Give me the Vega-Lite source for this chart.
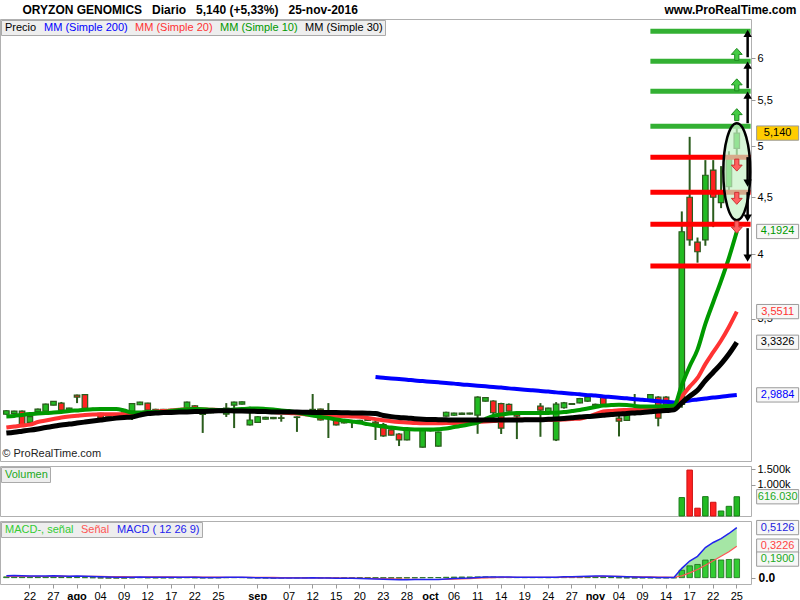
{
"$schema": "https://vega.github.io/schema/vega-lite/v6.json",
"background": "#ffffff",
"padding": {"left": -5, "top": 2, "right": 0, "bottom": 0},
"spacing": 0,
"config": {
  "font": "Liberation Sans",
  "view": {"stroke": "#b0b0b0"},
  "axis": {"labelFont": "Liberation Sans", "labelFontSize": 11, "labelColor": "#000000", "tickColor": "#999999", "domain": false, "grid": false, "titleFont": "Liberation Sans"},
  "legend": {"labelFont": "Liberation Sans", "labelFontSize": 11, "orient": "none", "legendX": 1, "legendY": 1, "direction": "horizontal", "padding": 2, "symbolSize": 0, "symbolStrokeWidth": 0, "symbolOpacity": 0, "labelOffset": -9, "columnPadding": 5, "fillColor": "#eeeeee", "strokeColor": "#aaaaaa"}
},
"datasets": {
"p": [
{"d":"2016-07-19","o":2.871,"h":2.895,"l":2.868,"c":2.892,"dir":"u","m10":2.858,"m20":2.793,"m30":2.761,"macd":0.020,"sig":0.012,"hist":0.008},
{"d":"2016-07-20","o":2.875,"h":2.892,"l":2.872,"c":2.890,"dir":"u","m10":2.861,"m20":2.799,"m30":2.766,"macd":0.021,"sig":0.013,"hist":0.008},
{"d":"2016-07-21","o":2.890,"h":2.893,"l":2.805,"c":2.808,"dir":"d","m10":2.867,"m20":2.805,"m30":2.772,"macd":0.020,"sig":0.013,"hist":0.007},
{"d":"2016-07-22","o":2.823,"h":2.870,"l":2.818,"c":2.857,"dir":"u","m10":2.872,"m20":2.810,"m30":2.778,"macd":0.018,"sig":0.014,"hist":0.004},
{"d":"2016-07-25","o":2.887,"h":2.905,"l":2.885,"c":2.902,"dir":"u","m10":2.875,"m20":2.825,"m30":2.785,"macd":0.017,"sig":0.014,"hist":0.003},
{"d":"2016-07-26","o":2.890,"h":2.935,"l":2.888,"c":2.932,"dir":"u","m10":2.878,"m20":2.834,"m30":2.793,"macd":0.018,"sig":0.012,"hist":0.006},
{"d":"2016-07-27","o":2.926,"h":2.951,"l":2.924,"c":2.949,"dir":"u","m10":2.881,"m20":2.843,"m30":2.800,"macd":0.019,"sig":0.013,"hist":0.006},
{"d":"2016-07-28","o":2.938,"h":2.945,"l":2.893,"c":2.896,"dir":"d","m10":2.885,"m20":2.852,"m30":2.808,"macd":0.017,"sig":0.015,"hist":0.002},
{"d":"2016-07-29","o":2.896,"h":2.910,"l":2.894,"c":2.908,"dir":"u","m10":2.890,"m20":2.858,"m30":2.813,"macd":0.015,"sig":0.014,"hist":0.001},
{"d":"2016-08-01","o":2.987,"h":2.990,"l":2.938,"c":2.975,"dir":"d","m10":2.894,"m20":2.862,"m30":2.819,"macd":0.016,"sig":0.014,"hist":0.002},
{"d":"2016-08-02","o":2.990,"h":2.993,"l":2.903,"c":2.906,"dir":"d","m10":2.898,"m20":2.866,"m30":2.825,"macd":0.014,"sig":0.014,"hist":0.000},
{"d":"2016-08-03","o":2.905,"h":2.910,"l":2.895,"c":2.900,"dir":"d","m10":2.901,"m20":2.869,"m30":2.831,"macd":0.011,"sig":0.013,"hist":-0.002},
{"d":"2016-08-04","o":2.876,"h":2.880,"l":2.844,"c":2.847,"dir":"d","m10":2.902,"m20":2.871,"m30":2.837,"macd":0.008,"sig":0.013,"hist":-0.005},
{"d":"2016-08-05","o":2.853,"h":2.858,"l":2.851,"c":2.856,"dir":"u","m10":2.902,"m20":2.871,"m30":2.843,"macd":0.006,"sig":0.012,"hist":-0.006},
{"d":"2016-08-08","o":2.860,"h":2.870,"l":2.857,"c":2.866,"dir":"u","m10":2.902,"m20":2.871,"m30":2.848,"macd":0.005,"sig":0.011,"hist":-0.006},
{"d":"2016-08-09","o":2.870,"h":2.884,"l":2.866,"c":2.880,"dir":"u","m10":2.893,"m20":2.872,"m30":2.852,"macd":0.004,"sig":0.010,"hist":-0.006},
{"d":"2016-08-10","o":2.890,"h":2.938,"l":2.837,"c":2.935,"dir":"u","m10":2.881,"m20":2.872,"m30":2.855,"macd":0.005,"sig":0.009,"hist":-0.004},
{"d":"2016-08-11","o":2.928,"h":2.946,"l":2.926,"c":2.944,"dir":"u","m10":2.881,"m20":2.878,"m30":2.866,"macd":0.006,"sig":0.006,"hist":0.000},
{"d":"2016-08-12","o":2.938,"h":2.940,"l":2.893,"c":2.896,"dir":"d","m10":2.884,"m20":2.882,"m30":2.875,"macd":0.005,"sig":0.008,"hist":-0.003},
{"d":"2016-08-15","o":2.896,"h":2.904,"l":2.890,"c":2.900,"dir":"u","m10":2.884,"m20":2.887,"m30":2.878,"macd":0.004,"sig":0.008,"hist":-0.004},
{"d":"2016-08-16","o":2.900,"h":2.903,"l":2.890,"c":2.895,"dir":"d","m10":2.885,"m20":2.890,"m30":2.881,"macd":0.003,"sig":0.007,"hist":-0.004},
{"d":"2016-08-17","o":2.895,"h":2.904,"l":2.892,"c":2.900,"dir":"u","m10":2.890,"m20":2.894,"m30":2.882,"macd":0.003,"sig":0.007,"hist":-0.004},
{"d":"2016-08-18","o":2.900,"h":2.908,"l":2.897,"c":2.905,"dir":"u","m10":2.896,"m20":2.898,"m30":2.884,"macd":0.003,"sig":0.006,"hist":-0.003},
{"d":"2016-08-19","o":2.908,"h":2.947,"l":2.905,"c":2.944,"dir":"u","m10":2.901,"m20":2.901,"m30":2.885,"macd":0.005,"sig":0.005,"hist":0.000},
{"d":"2016-08-22","o":2.922,"h":2.925,"l":2.900,"c":2.902,"dir":"d","m10":2.902,"m20":2.902,"m30":2.887,"macd":0.004,"sig":0.007,"hist":-0.003},
{"d":"2016-08-23","o":2.870,"h":2.878,"l":2.762,"c":2.875,"dir":"u","m10":2.901,"m20":2.900,"m30":2.888,"macd":0.002,"sig":0.006,"hist":-0.004},
{"d":"2016-08-24","o":2.880,"h":2.890,"l":2.876,"c":2.885,"dir":"u","m10":2.898,"m20":2.898,"m30":2.890,"macd":0.002,"sig":0.006,"hist":-0.004},
{"d":"2016-08-25","o":2.885,"h":2.894,"l":2.882,"c":2.890,"dir":"u","m10":2.896,"m20":2.897,"m30":2.892,"macd":0.002,"sig":0.005,"hist":-0.003},
{"d":"2016-08-26","o":2.872,"h":2.938,"l":2.855,"c":2.908,"dir":"u","m10":2.896,"m20":2.895,"m30":2.892,"macd":0.003,"sig":0.003,"hist":0.000},
{"d":"2016-08-29","o":2.926,"h":2.947,"l":2.790,"c":2.944,"dir":"u","m10":2.899,"m20":2.894,"m30":2.891,"macd":0.004,"sig":0.003,"hist":0.001},
{"d":"2016-08-30","o":2.932,"h":2.948,"l":2.930,"c":2.946,"dir":"u","m10":2.902,"m20":2.892,"m30":2.890,"macd":0.004,"sig":0.003,"hist":0.001},
{"d":"2016-08-31","o":2.808,"h":2.916,"l":2.805,"c":2.837,"dir":"u","m10":2.905,"m20":2.891,"m30":2.889,"macd":0.001,"sig":0.004,"hist":-0.003},
{"d":"2016-09-01","o":2.823,"h":2.860,"l":2.820,"c":2.856,"dir":"u","m10":2.906,"m20":2.890,"m30":2.888,"macd":-0.001,"sig":0.003,"hist":-0.004},
{"d":"2016-09-02","o":2.842,"h":2.856,"l":2.840,"c":2.853,"dir":"u","m10":2.903,"m20":2.887,"m30":2.887,"macd":-0.002,"sig":0.003,"hist":-0.005},
{"d":"2016-09-05","o":2.845,"h":2.855,"l":2.842,"c":2.852,"dir":"u","m10":2.899,"m20":2.884,"m30":2.885,"macd":-0.003,"sig":0.002,"hist":-0.005},
{"d":"2016-09-06","o":2.850,"h":2.866,"l":2.827,"c":2.847,"dir":"d","m10":2.894,"m20":2.881,"m30":2.885,"macd":-0.003,"sig":0.001,"hist":-0.004},
{"d":"2016-09-07","o":2.880,"h":2.890,"l":2.875,"c":2.885,"dir":"u","m10":2.890,"m20":2.879,"m30":2.884,"macd":-0.003,"sig":0.000,"hist":-0.003},
{"d":"2016-09-08","o":2.855,"h":2.858,"l":2.768,"c":2.852,"dir":"d","m10":2.881,"m20":2.875,"m30":2.884,"macd":-0.004,"sig":-0.001,"hist":-0.003},
{"d":"2016-09-09","o":2.875,"h":2.884,"l":2.870,"c":2.880,"dir":"u","m10":2.872,"m20":2.871,"m30":2.883,"macd":-0.003,"sig":-0.002,"hist":-0.001},
{"d":"2016-09-12","o":2.895,"h":2.994,"l":2.892,"c":2.900,"dir":"u","m10":2.864,"m20":2.866,"m30":2.882,"macd":-0.002,"sig":-0.002,"hist":0.000},
{"d":"2016-09-13","o":2.902,"h":2.905,"l":2.834,"c":2.837,"dir":"d","m10":2.855,"m20":2.865,"m30":2.882,"macd":-0.004,"sig":-0.001,"hist":-0.003},
{"d":"2016-09-14","o":2.860,"h":2.938,"l":2.733,"c":2.865,"dir":"u","m10":2.849,"m20":2.863,"m30":2.881,"macd":-0.004,"sig":-0.002,"hist":-0.002},
{"d":"2016-09-15","o":2.848,"h":2.850,"l":2.805,"c":2.808,"dir":"d","m10":2.840,"m20":2.862,"m30":2.881,"macd":-0.005,"sig":-0.003,"hist":-0.002},
{"d":"2016-09-16","o":2.830,"h":2.834,"l":2.817,"c":2.820,"dir":"d","m10":2.834,"m20":2.860,"m30":2.880,"macd":-0.006,"sig":-0.004,"hist":-0.002},
{"d":"2016-09-19","o":2.830,"h":2.837,"l":2.790,"c":2.826,"dir":"d","m10":2.828,"m20":2.858,"m30":2.879,"macd":-0.007,"sig":-0.005,"hist":-0.002},
{"d":"2016-09-20","o":2.835,"h":2.838,"l":2.822,"c":2.825,"dir":"d","m10":2.822,"m20":2.856,"m30":2.878,"macd":-0.008,"sig":-0.006,"hist":-0.002},
{"d":"2016-09-21","o":2.840,"h":2.846,"l":2.832,"c":2.835,"dir":"d","m10":2.813,"m20":2.849,"m30":2.877,"macd":-0.011,"sig":-0.007,"hist":-0.004},
{"d":"2016-09-22","o":2.825,"h":2.848,"l":2.722,"c":2.815,"dir":"d","m10":2.805,"m20":2.842,"m30":2.875,"m200":3.101,"macd":-0.014,"sig":-0.009,"hist":-0.005},
{"d":"2016-09-23","o":2.810,"h":2.820,"l":2.740,"c":2.745,"dir":"d","m10":2.799,"m20":2.835,"m30":2.864,"m200":3.096,"macd":-0.017,"sig":-0.011,"hist":-0.006},
{"d":"2016-09-26","o":2.780,"h":2.782,"l":2.748,"c":2.750,"dir":"d","m10":2.793,"m20":2.829,"m30":2.857,"m200":3.092,"macd":-0.019,"sig":-0.013,"hist":-0.006},
{"d":"2016-09-27","o":2.756,"h":2.760,"l":2.688,"c":2.722,"dir":"d","m10":2.788,"m20":2.825,"m30":2.852,"m200":3.088,"macd":-0.021,"sig":-0.015,"hist":-0.006},
{"d":"2016-09-28","o":2.722,"h":2.790,"l":2.720,"c":2.784,"dir":"u","m10":2.784,"m20":2.823,"m30":2.849,"m200":3.084,"macd":-0.021,"sig":-0.017,"hist":-0.004},
{"d":"2016-09-29","o":2.780,"h":2.790,"l":2.776,"c":2.785,"dir":"u","m10":2.782,"m20":2.820,"m30":2.845,"m200":3.079,"macd":-0.020,"sig":-0.018,"hist":-0.002},
{"d":"2016-09-30","o":2.682,"h":2.782,"l":2.679,"c":2.779,"dir":"u","m10":2.781,"m20":2.818,"m30":2.842,"m200":3.075,"macd":-0.020,"sig":-0.019,"hist":-0.001},
{"d":"2016-10-03","o":2.775,"h":2.784,"l":2.770,"c":2.780,"dir":"u","m10":2.781,"m20":2.818,"m30":2.840,"m200":3.071,"macd":-0.019,"sig":-0.019,"hist":0.000},
{"d":"2016-10-04","o":2.688,"h":2.770,"l":2.685,"c":2.767,"dir":"u","m10":2.783,"m20":2.818,"m30":2.839,"m200":3.067,"macd":-0.018,"sig":-0.019,"hist":0.001},
{"d":"2016-10-05","o":2.860,"h":2.886,"l":2.857,"c":2.883,"dir":"u","m10":2.787,"m20":2.819,"m30":2.838,"m200":3.063,"macd":-0.013,"sig":-0.017,"hist":0.004},
{"d":"2016-10-06","o":2.865,"h":2.880,"l":2.862,"c":2.878,"dir":"u","m10":2.796,"m20":2.819,"m30":2.837,"m200":3.059,"macd":-0.009,"sig":-0.015,"hist":0.006},
{"d":"2016-10-07","o":2.870,"h":2.880,"l":2.868,"c":2.878,"dir":"u","m10":2.803,"m20":2.822,"m30":2.837,"m200":3.054,"macd":-0.006,"sig":-0.013,"hist":0.007},
{"d":"2016-10-10","o":2.872,"h":2.880,"l":2.870,"c":2.878,"dir":"u","m10":2.812,"m20":2.823,"m30":2.837,"m200":3.050,"macd":-0.003,"sig":-0.010,"hist":0.007},
{"d":"2016-10-11","o":2.866,"h":2.980,"l":2.757,"c":2.975,"dir":"u","m10":2.822,"m20":2.826,"m30":2.837,"m200":3.046,"macd":0.002,"sig":-0.006,"hist":0.008},
{"d":"2016-10-12","o":2.950,"h":2.975,"l":2.947,"c":2.972,"dir":"u","m10":2.843,"m20":2.828,"m30":2.837,"m200":3.042,"macd":0.006,"sig":-0.002,"hist":0.008},
{"d":"2016-10-13","o":2.951,"h":2.955,"l":2.837,"c":2.880,"dir":"d","m10":2.861,"m20":2.831,"m30":2.837,"m200":3.038,"macd":0.007,"sig":0.000,"hist":0.007},
{"d":"2016-10-14","o":2.935,"h":2.940,"l":2.756,"c":2.790,"dir":"d","m10":2.869,"m20":2.835,"m30":2.837,"m200":3.034,"macd":0.006,"sig":0.002,"hist":0.004},
{"d":"2016-10-17","o":2.930,"h":2.935,"l":2.887,"c":2.890,"dir":"d","m10":2.875,"m20":2.838,"m30":2.837,"m200":3.029,"macd":0.006,"sig":0.003,"hist":0.003},
{"d":"2016-10-18","o":2.878,"h":2.880,"l":2.727,"c":2.860,"dir":"d","m10":2.878,"m20":2.841,"m30":2.837,"m200":3.025,"macd":0.005,"sig":0.003,"hist":0.002},
{"d":"2016-10-19","o":2.875,"h":2.885,"l":2.870,"c":2.880,"dir":"u","m10":2.878,"m20":2.840,"m30":2.838,"m200":3.021,"macd":0.004,"sig":0.003,"hist":0.001},
{"d":"2016-10-20","o":2.880,"h":2.884,"l":2.872,"c":2.876,"dir":"d","m10":2.878,"m20":2.839,"m30":2.839,"m200":3.017,"macd":0.004,"sig":0.003,"hist":0.001},
{"d":"2016-10-21","o":2.920,"h":2.938,"l":2.740,"c":2.896,"dir":"d","m10":2.878,"m20":2.838,"m30":2.839,"m200":3.013,"macd":0.004,"sig":0.003,"hist":0.001},
{"d":"2016-10-24","o":2.878,"h":2.910,"l":2.875,"c":2.908,"dir":"u","m10":2.879,"m20":2.838,"m30":2.841,"m200":3.009,"macd":0.003,"sig":0.003,"hist":0.000},
{"d":"2016-10-25","o":2.722,"h":2.944,"l":2.716,"c":2.932,"dir":"u","m10":2.880,"m20":2.838,"m30":2.843,"m200":3.004,"macd":0.005,"sig":0.004,"hist":0.001},
{"d":"2016-10-26","o":2.910,"h":2.945,"l":2.905,"c":2.940,"dir":"u","m10":2.884,"m20":2.840,"m30":2.846,"m200":3.000,"macd":0.008,"sig":0.005,"hist":0.003},
{"d":"2016-10-27","o":2.930,"h":2.938,"l":2.928,"c":2.935,"dir":"u","m10":2.890,"m20":2.843,"m30":2.850,"m200":2.996,"macd":0.010,"sig":0.006,"hist":0.004},
{"d":"2016-10-28","o":2.940,"h":2.970,"l":2.937,"c":2.965,"dir":"u","m10":2.896,"m20":2.845,"m30":2.854,"m200":2.992,"macd":0.013,"sig":0.008,"hist":0.005},
{"d":"2016-10-31","o":2.950,"h":2.980,"l":2.945,"c":2.975,"dir":"u","m10":2.905,"m20":2.855,"m30":2.857,"m200":2.987,"macd":0.015,"sig":0.010,"hist":0.005},
{"d":"2016-11-01","o":2.930,"h":2.935,"l":2.915,"c":2.920,"dir":"d","m10":2.914,"m20":2.872,"m30":2.861,"m200":2.984,"macd":0.016,"sig":0.012,"hist":0.004},
{"d":"2016-11-02","o":2.975,"h":2.980,"l":2.920,"c":2.926,"dir":"d","m10":2.923,"m20":2.887,"m30":2.865,"m200":2.979,"macd":0.016,"sig":0.013,"hist":0.003},
{"d":"2016-11-03","o":2.920,"h":2.930,"l":2.915,"c":2.925,"dir":"u","m10":2.926,"m20":2.891,"m30":2.869,"m200":2.975,"macd":0.014,"sig":0.013,"hist":0.001},
{"d":"2016-11-04","o":2.848,"h":2.866,"l":2.742,"c":2.830,"dir":"d","m10":2.928,"m20":2.895,"m30":2.872,"m200":2.971,"macd":0.011,"sig":0.013,"hist":-0.002},
{"d":"2016-11-07","o":2.835,"h":2.868,"l":2.832,"c":2.865,"dir":"u","m10":2.926,"m20":2.896,"m30":2.876,"m200":2.967,"macd":0.008,"sig":0.012,"hist":-0.004},
{"d":"2016-11-08","o":2.880,"h":2.994,"l":2.865,"c":2.885,"dir":"u","m10":2.921,"m20":2.897,"m30":2.879,"m200":2.962,"macd":0.006,"sig":0.011,"hist":-0.005},
{"d":"2016-11-09","o":2.890,"h":2.905,"l":2.885,"c":2.900,"dir":"u","m10":2.917,"m20":2.898,"m30":2.882,"m200":2.959,"macd":0.005,"sig":0.009,"hist":-0.004},
{"d":"2016-11-10","o":2.960,"h":2.994,"l":2.955,"c":2.990,"dir":"u","m10":2.917,"m20":2.900,"m30":2.886,"m200":2.954,"macd":0.004,"sig":0.008,"hist":-0.004},
{"d":"2016-11-11","o":2.975,"h":2.980,"l":2.800,"c":2.848,"dir":"d","m10":2.918,"m20":2.905,"m30":2.890,"m200":2.950,"macd":0.002,"sig":0.006,"hist":-0.004},
{"d":"2016-11-14","o":2.975,"h":2.980,"l":2.920,"c":2.926,"dir":"d","m10":2.920,"m20":2.911,"m30":2.893,"m200":2.946,"macd":0.001,"sig":0.005,"hist":-0.004},
{"d":"2016-11-15","o":2.920,"h":2.930,"l":2.900,"c":2.910,"dir":"d","m10":2.923,"m20":2.915,"m30":2.897,"m200":2.942,"macd":0.001,"sig":0.004,"hist":-0.003},
{"d":"2016-11-16","o":2.930,"h":4.370,"l":2.910,"c":4.190,"dir":"u","m10":3.050,"m20":2.978,"m30":2.940,"m200":2.947,"v":590000,"macd":0.095,"sig":0.019,"hist":0.076},
{"d":"2016-11-17","o":4.500,"h":5.100,"l":4.070,"c":4.120,"dir":"d","m10":3.171,"m20":3.040,"m30":2.980,"m200":2.954,"v":1470000,"macd":0.170,"sig":0.049,"hist":0.121},
{"d":"2016-11-18","o":4.100,"h":4.140,"l":3.930,"c":4.020,"dir":"d","m10":3.282,"m20":3.095,"m30":3.017,"m200":2.960,"v":250000,"macd":0.218,"sig":0.083,"hist":0.135},
{"d":"2016-11-21","o":4.120,"h":4.860,"l":4.070,"c":4.710,"dir":"u","m10":3.462,"m20":3.185,"m30":3.078,"m200":2.966,"v":620000,"macd":0.308,"sig":0.128,"hist":0.180},
{"d":"2016-11-22","o":4.760,"h":4.860,"l":4.230,"c":4.500,"dir":"d","m10":3.621,"m20":3.265,"m30":3.132,"m200":2.972,"v":440000,"macd":0.360,"sig":0.174,"hist":0.186},
{"d":"2016-11-23","o":4.450,"h":4.800,"l":4.400,"c":4.550,"dir":"u","m10":3.785,"m20":3.345,"m30":3.187,"m200":2.977,"v":160000,"macd":0.400,"sig":0.219,"hist":0.181},
{"d":"2016-11-24","o":4.600,"h":4.950,"l":4.550,"c":4.880,"dir":"u","m10":3.970,"m20":3.440,"m30":3.253,"m200":2.983,"v":310000,"macd":0.452,"sig":0.266,"hist":0.186},
{"d":"2016-11-25","o":4.980,"h":5.200,"l":4.900,"c":5.140,"dir":"u","m10":4.1924,"m20":3.5511,"m30":3.3326,"m200":2.9884,"v":616030,"macd":0.5126,"sig":0.3226,"hist":0.190}
],
"lv": [{"p":6.347,"k":"g"},{"p":5.964,"k":"g"},{"p":5.606,"k":"g"},{"p":5.214,"k":"g"},{"p":4.890,"k":"r"},{"p":4.548,"k":"r"},{"p":4.256,"k":"r"},{"p":3.902,"k":"r"}],
"ar": [{"a":6.014,"b":6.32,"dir":"up"},{"a":5.64,"b":5.916,"dir":"up"},{"a":5.246,"b":5.56,"dir":"up"},{"a":4.89,"b":4.634,"dir":"down"},{"a":4.548,"b":4.31,"dir":"down"},{"a":4.221,"b":3.967,"dir":"down"}],
"sa": [{"p":6.05,"dir":"up"},{"p":5.68,"dir":"up"},{"p":5.34,"dir":"up"},{"p":4.81,"dir":"down"},{"p":4.49,"dir":"down"},{"p":4.23,"dir":"down"}],
"lab": [{"p":5.14,"t":"5,140","k":"pr"},{"p":4.1924,"t":"4,1924","k":"m10"},{"p":3.5511,"t":"3,5511","k":"m20"},{"p":3.3326,"t":"3,3326","k":"m30"},{"p":2.9884,"t":"2,9884","k":"m200"}],
"vlab": [{"p":616030,"t":"616.030"}],
"mlab": [{"p":0.5126,"t":"0,5126","k":"macd"},{"p":0.3226,"t":"0,3226","k":"sig"},{"p":0.19,"t":"0,1900","k":"hist"}]
},
"vconcat": [
{
 "width": 751, "height": 442,
 "data": {"name": "p"},
 "encoding": {"x": {"field": "d", "type": "ordinal",
   "scale": {"type": "band", "paddingInner": 0.3, "paddingOuter": 0.46, "domain": ["2016-07-19","2016-07-20","2016-07-21","2016-07-22","2016-07-25","2016-07-26","2016-07-27","2016-07-28","2016-07-29","2016-08-01","2016-08-02","2016-08-03","2016-08-04","2016-08-05","2016-08-08","2016-08-09","2016-08-10","2016-08-11","2016-08-12","2016-08-15","2016-08-16","2016-08-17","2016-08-18","2016-08-19","2016-08-22","2016-08-23","2016-08-24","2016-08-25","2016-08-26","2016-08-29","2016-08-30","2016-08-31","2016-09-01","2016-09-02","2016-09-05","2016-09-06","2016-09-07","2016-09-08","2016-09-09","2016-09-12","2016-09-13","2016-09-14","2016-09-15","2016-09-16","2016-09-19","2016-09-20","2016-09-21","2016-09-22","2016-09-23","2016-09-26","2016-09-27","2016-09-28","2016-09-29","2016-09-30","2016-10-03","2016-10-04","2016-10-05","2016-10-06","2016-10-07","2016-10-10","2016-10-11","2016-10-12","2016-10-13","2016-10-14","2016-10-17","2016-10-18","2016-10-19","2016-10-20","2016-10-21","2016-10-24","2016-10-25","2016-10-26","2016-10-27","2016-10-28","2016-10-31","2016-11-01","2016-11-02","2016-11-03","2016-11-04","2016-11-07","2016-11-08","2016-11-09","2016-11-10","2016-11-11","2016-11-14","2016-11-15","2016-11-16","2016-11-17","2016-11-18","2016-11-21","2016-11-22","2016-11-23","2016-11-24","2016-11-25","2016-11-28"]},
   "axis": {"orient": "top", "labels": false, "ticks": false, "domain": false, "title": "ORYZON GENOMICS\u00a0\u00a0 Diario\u00a0\u00a0 5,140 (+5,33%)\u00a0\u00a0 25-nov-2016", "titleFontSize": 12, "titleFontWeight": "bold", "titleColor": "#000000", "titleX": 22, "titleY": -10, "titleAlign": "left", "titleAnchor": "start", "titleBaseline": "middle"}}},
 "layer": [
  {"mark": {"type": "rule", "color": "#2a5c1c", "strokeWidth": 2},
   "encoding": {"y": {"field": "l", "type": "quantitative", "scale": {"type": "log", "domain": [2.606, 6.51], "nice": false, "zero": false},
      "axis": {"orient": "right", "values": [3.5, 4, 4.5, 5, 5.5, 6], "labelExpr": "replace(toString(datum.value), '.', ',')", "tickSize": 4, "labelPadding": 2, "title": "www.ProRealTime.com", "titleAngle": 0, "titleX": 45, "titleY": -10, "titleAlign": "right", "titleBaseline": "middle", "titleFontSize": 12, "titleFontWeight": "bold", "titleColor": "#000000"}},
     "y2": {"field": "h"}}},
  {"mark": {"type": "bar", "stroke": "#2a5c1c", "strokeWidth": 1.2},
   "encoding": {"y": {"field": "o", "type": "quantitative"}, "y2": {"field": "c"},
     "fill": {"condition": {"test": "datum.dir == 'u'", "value": "#22bb22"}, "value": "#ff2222"}}},
  {"mark": {"type": "line", "strokeWidth": 4, "interpolate": "monotone"},
   "encoding": {"y": {"field": "m200", "type": "quantitative"},
     "stroke": {"datum": "m200", "type": "nominal",
       "scale": {"domain": ["precio", "m200", "m20", "m10", "m30"], "range": ["#000000", "#0000ff", "#ff3333", "#009900", "#000000"]},
       "legend": {"title": null, "symbolType": "square", "symbolSize": 0, "labelExpr": "datum.value == 'precio' ? 'Precio' : datum.value == 'm200' ? 'MM (Simple 200)' : datum.value == 'm20' ? 'MM (Simple 20)' : datum.value == 'm10' ? 'MM (Simple 10)' : 'MM (Simple 30)'",
         "labelColor": {"expr": "datum.value == 'm200' ? '#0000ff' : datum.value == 'm20' ? '#ff3333' : datum.value == 'm10' ? '#009900' : '#000000'"}}}}},
  {"mark": {"type": "line", "strokeWidth": 4, "interpolate": "monotone"},
   "encoding": {"y": {"field": "m20", "type": "quantitative"}, "stroke": {"datum": "m20", "type": "nominal"}}},
  {"mark": {"type": "line", "strokeWidth": 4, "interpolate": "monotone"},
   "encoding": {"y": {"field": "m10", "type": "quantitative"}, "stroke": {"datum": "m10", "type": "nominal"}}},
  {"mark": {"type": "line", "strokeWidth": 5, "interpolate": "monotone"},
   "encoding": {"y": {"field": "m30", "type": "quantitative"}, "stroke": {"datum": "m30", "type": "nominal"}}},
  {"data": {"name": "lv"},
   "mark": {"type": "rule", "strokeWidth": 5, "x2Offset": 6},
   "encoding": {
     "x": {"datum": "2016-11-10", "type": "ordinal",
       "scale": {"type": "band", "paddingInner": 0.3, "paddingOuter": 0.46, "domain": ["2016-07-19","2016-07-20","2016-07-21","2016-07-22","2016-07-25","2016-07-26","2016-07-27","2016-07-28","2016-07-29","2016-08-01","2016-08-02","2016-08-03","2016-08-04","2016-08-05","2016-08-08","2016-08-09","2016-08-10","2016-08-11","2016-08-12","2016-08-15","2016-08-16","2016-08-17","2016-08-18","2016-08-19","2016-08-22","2016-08-23","2016-08-24","2016-08-25","2016-08-26","2016-08-29","2016-08-30","2016-08-31","2016-09-01","2016-09-02","2016-09-05","2016-09-06","2016-09-07","2016-09-08","2016-09-09","2016-09-12","2016-09-13","2016-09-14","2016-09-15","2016-09-16","2016-09-19","2016-09-20","2016-09-21","2016-09-22","2016-09-23","2016-09-26","2016-09-27","2016-09-28","2016-09-29","2016-09-30","2016-10-03","2016-10-04","2016-10-05","2016-10-06","2016-10-07","2016-10-10","2016-10-11","2016-10-12","2016-10-13","2016-10-14","2016-10-17","2016-10-18","2016-10-19","2016-10-20","2016-10-21","2016-10-24","2016-10-25","2016-10-26","2016-10-27","2016-10-28","2016-10-31","2016-11-01","2016-11-02","2016-11-03","2016-11-04","2016-11-07","2016-11-08","2016-11-09","2016-11-10","2016-11-11","2016-11-14","2016-11-15","2016-11-16","2016-11-17","2016-11-18","2016-11-21","2016-11-22","2016-11-23","2016-11-24","2016-11-25","2016-11-28"]}},
     "x2": {"datum": "2016-11-28"},
     "y": {"field": "p", "type": "quantitative"},
     "color": {"condition": {"test": "datum.k == 'g'", "value": "#33b033"}, "value": "#ff0000"}}},
  {"data": {"values": [{"t": "elipse"}]},
   "mark": {"type": "point", "shape": "M 0 -1 A 0.278 1 0 1 1 0 1 A 0.278 1 0 1 1 0 -1 Z", "size": 9409, "filled": true, "fill": "#c6f2c6", "fillOpacity": 0.7, "opacity": 1, "stroke": "#000000", "strokeOpacity": 1, "strokeWidth": 2.5},
   "encoding": {
     "x": {"datum": "2016-11-25", "type": "ordinal",
       "scale": {"type": "band", "paddingInner": 0.3, "paddingOuter": 0.46, "domain": ["2016-07-19","2016-07-20","2016-07-21","2016-07-22","2016-07-25","2016-07-26","2016-07-27","2016-07-28","2016-07-29","2016-08-01","2016-08-02","2016-08-03","2016-08-04","2016-08-05","2016-08-08","2016-08-09","2016-08-10","2016-08-11","2016-08-12","2016-08-15","2016-08-16","2016-08-17","2016-08-18","2016-08-19","2016-08-22","2016-08-23","2016-08-24","2016-08-25","2016-08-26","2016-08-29","2016-08-30","2016-08-31","2016-09-01","2016-09-02","2016-09-05","2016-09-06","2016-09-07","2016-09-08","2016-09-09","2016-09-12","2016-09-13","2016-09-14","2016-09-15","2016-09-16","2016-09-19","2016-09-20","2016-09-21","2016-09-22","2016-09-23","2016-09-26","2016-09-27","2016-09-28","2016-09-29","2016-09-30","2016-10-03","2016-10-04","2016-10-05","2016-10-06","2016-10-07","2016-10-10","2016-10-11","2016-10-12","2016-10-13","2016-10-14","2016-10-17","2016-10-18","2016-10-19","2016-10-20","2016-10-21","2016-10-24","2016-10-25","2016-10-26","2016-10-27","2016-10-28","2016-10-31","2016-11-01","2016-11-02","2016-11-03","2016-11-04","2016-11-07","2016-11-08","2016-11-09","2016-11-10","2016-11-11","2016-11-14","2016-11-15","2016-11-16","2016-11-17","2016-11-18","2016-11-21","2016-11-22","2016-11-23","2016-11-24","2016-11-25","2016-11-28"]}},
     "y": {"datum": 4.745, "type": "quantitative"}}},
  {"data": {"name": "ar"},
   "mark": {"type": "rule", "strokeWidth": 2.5, "color": "#000000", "xOffset": 3},
   "encoding": {
     "x": {"datum": "2016-11-28", "type": "ordinal",
       "scale": {"type": "band", "paddingInner": 0.3, "paddingOuter": 0.46, "domain": ["2016-07-19","2016-07-20","2016-07-21","2016-07-22","2016-07-25","2016-07-26","2016-07-27","2016-07-28","2016-07-29","2016-08-01","2016-08-02","2016-08-03","2016-08-04","2016-08-05","2016-08-08","2016-08-09","2016-08-10","2016-08-11","2016-08-12","2016-08-15","2016-08-16","2016-08-17","2016-08-18","2016-08-19","2016-08-22","2016-08-23","2016-08-24","2016-08-25","2016-08-26","2016-08-29","2016-08-30","2016-08-31","2016-09-01","2016-09-02","2016-09-05","2016-09-06","2016-09-07","2016-09-08","2016-09-09","2016-09-12","2016-09-13","2016-09-14","2016-09-15","2016-09-16","2016-09-19","2016-09-20","2016-09-21","2016-09-22","2016-09-23","2016-09-26","2016-09-27","2016-09-28","2016-09-29","2016-09-30","2016-10-03","2016-10-04","2016-10-05","2016-10-06","2016-10-07","2016-10-10","2016-10-11","2016-10-12","2016-10-13","2016-10-14","2016-10-17","2016-10-18","2016-10-19","2016-10-20","2016-10-21","2016-10-24","2016-10-25","2016-10-26","2016-10-27","2016-10-28","2016-10-31","2016-11-01","2016-11-02","2016-11-03","2016-11-04","2016-11-07","2016-11-08","2016-11-09","2016-11-10","2016-11-11","2016-11-14","2016-11-15","2016-11-16","2016-11-17","2016-11-18","2016-11-21","2016-11-22","2016-11-23","2016-11-24","2016-11-25","2016-11-28"]}},
     "y": {"field": "a", "type": "quantitative"},
     "y2": {"field": "b"}}},
  {"data": {"name": "ar"},
   "mark": {"type": "point", "filled": true, "color": "#000000", "size": 70, "opacity": 1, "xOffset": 3},
   "encoding": {
     "x": {"datum": "2016-11-28", "type": "ordinal",
       "scale": {"type": "band", "paddingInner": 0.3, "paddingOuter": 0.46, "domain": ["2016-07-19","2016-07-20","2016-07-21","2016-07-22","2016-07-25","2016-07-26","2016-07-27","2016-07-28","2016-07-29","2016-08-01","2016-08-02","2016-08-03","2016-08-04","2016-08-05","2016-08-08","2016-08-09","2016-08-10","2016-08-11","2016-08-12","2016-08-15","2016-08-16","2016-08-17","2016-08-18","2016-08-19","2016-08-22","2016-08-23","2016-08-24","2016-08-25","2016-08-26","2016-08-29","2016-08-30","2016-08-31","2016-09-01","2016-09-02","2016-09-05","2016-09-06","2016-09-07","2016-09-08","2016-09-09","2016-09-12","2016-09-13","2016-09-14","2016-09-15","2016-09-16","2016-09-19","2016-09-20","2016-09-21","2016-09-22","2016-09-23","2016-09-26","2016-09-27","2016-09-28","2016-09-29","2016-09-30","2016-10-03","2016-10-04","2016-10-05","2016-10-06","2016-10-07","2016-10-10","2016-10-11","2016-10-12","2016-10-13","2016-10-14","2016-10-17","2016-10-18","2016-10-19","2016-10-20","2016-10-21","2016-10-24","2016-10-25","2016-10-26","2016-10-27","2016-10-28","2016-10-31","2016-11-01","2016-11-02","2016-11-03","2016-11-04","2016-11-07","2016-11-08","2016-11-09","2016-11-10","2016-11-11","2016-11-14","2016-11-15","2016-11-16","2016-11-17","2016-11-18","2016-11-21","2016-11-22","2016-11-23","2016-11-24","2016-11-25","2016-11-28"]}},
     "y": {"field": "b", "type": "quantitative"},
     "shape": {"field": "dir", "type": "nominal", "scale": {"domain": ["up", "down"], "range": ["triangle-up", "triangle-down"]}, "legend": null}}},
  {"data": {"name": "sa"},
   "mark": {"type": "point", "shape": "M -0.35 1 L 0.35 1 L 0.35 0 L 0.9 0 L 0 -1 L -0.9 0 L -0.35 0 Z", "filled": true, "size": 144, "opacity": 1, "strokeWidth": 1},
   "encoding": {
     "x": {"datum": "2016-11-25", "type": "ordinal",
       "scale": {"type": "band", "paddingInner": 0.3, "paddingOuter": 0.46, "domain": ["2016-07-19","2016-07-20","2016-07-21","2016-07-22","2016-07-25","2016-07-26","2016-07-27","2016-07-28","2016-07-29","2016-08-01","2016-08-02","2016-08-03","2016-08-04","2016-08-05","2016-08-08","2016-08-09","2016-08-10","2016-08-11","2016-08-12","2016-08-15","2016-08-16","2016-08-17","2016-08-18","2016-08-19","2016-08-22","2016-08-23","2016-08-24","2016-08-25","2016-08-26","2016-08-29","2016-08-30","2016-08-31","2016-09-01","2016-09-02","2016-09-05","2016-09-06","2016-09-07","2016-09-08","2016-09-09","2016-09-12","2016-09-13","2016-09-14","2016-09-15","2016-09-16","2016-09-19","2016-09-20","2016-09-21","2016-09-22","2016-09-23","2016-09-26","2016-09-27","2016-09-28","2016-09-29","2016-09-30","2016-10-03","2016-10-04","2016-10-05","2016-10-06","2016-10-07","2016-10-10","2016-10-11","2016-10-12","2016-10-13","2016-10-14","2016-10-17","2016-10-18","2016-10-19","2016-10-20","2016-10-21","2016-10-24","2016-10-25","2016-10-26","2016-10-27","2016-10-28","2016-10-31","2016-11-01","2016-11-02","2016-11-03","2016-11-04","2016-11-07","2016-11-08","2016-11-09","2016-11-10","2016-11-11","2016-11-14","2016-11-15","2016-11-16","2016-11-17","2016-11-18","2016-11-21","2016-11-22","2016-11-23","2016-11-24","2016-11-25","2016-11-28"]}},
     "y": {"field": "p", "type": "quantitative"},
     "angle": {"condition": {"test": "datum.dir == 'down'", "value": 180}, "value": 0},
     "fill": {"condition": {"test": "datum.dir == 'up'", "value": "#44cc44"}, "value": "#ff6060"},
     "stroke": {"condition": {"test": "datum.dir == 'up'", "value": "#1e8a1e"}, "value": "#cc3333"}}},
  {"data": {"name": "lab"},
   "mark": {"type": "point", "shape": "M -1 -0.34 L 1 -0.34 L 1 0.34 L -1 0.34 Z", "size": 1764, "filled": true, "opacity": 1, "stroke": "#9a9a9a", "strokeWidth": 1, "xOffset": 33},
   "encoding": {
     "x": {"datum": "2016-11-28", "type": "ordinal",
       "scale": {"type": "band", "paddingInner": 0.3, "paddingOuter": 0.46, "domain": ["2016-07-19","2016-07-20","2016-07-21","2016-07-22","2016-07-25","2016-07-26","2016-07-27","2016-07-28","2016-07-29","2016-08-01","2016-08-02","2016-08-03","2016-08-04","2016-08-05","2016-08-08","2016-08-09","2016-08-10","2016-08-11","2016-08-12","2016-08-15","2016-08-16","2016-08-17","2016-08-18","2016-08-19","2016-08-22","2016-08-23","2016-08-24","2016-08-25","2016-08-26","2016-08-29","2016-08-30","2016-08-31","2016-09-01","2016-09-02","2016-09-05","2016-09-06","2016-09-07","2016-09-08","2016-09-09","2016-09-12","2016-09-13","2016-09-14","2016-09-15","2016-09-16","2016-09-19","2016-09-20","2016-09-21","2016-09-22","2016-09-23","2016-09-26","2016-09-27","2016-09-28","2016-09-29","2016-09-30","2016-10-03","2016-10-04","2016-10-05","2016-10-06","2016-10-07","2016-10-10","2016-10-11","2016-10-12","2016-10-13","2016-10-14","2016-10-17","2016-10-18","2016-10-19","2016-10-20","2016-10-21","2016-10-24","2016-10-25","2016-10-26","2016-10-27","2016-10-28","2016-10-31","2016-11-01","2016-11-02","2016-11-03","2016-11-04","2016-11-07","2016-11-08","2016-11-09","2016-11-10","2016-11-11","2016-11-14","2016-11-15","2016-11-16","2016-11-17","2016-11-18","2016-11-21","2016-11-22","2016-11-23","2016-11-24","2016-11-25","2016-11-28"]}},
     "y": {"field": "p", "type": "quantitative"},
     "fill": {"condition": {"test": "datum.k == 'pr'", "value": "#ffcc00"}, "value": "#f7f7f7"}}},
  {"data": {"name": "lab"},
   "mark": {"type": "text", "fontSize": 11, "xOffset": 33, "align": "center", "baseline": "middle"},
   "encoding": {
     "x": {"datum": "2016-11-28", "type": "ordinal",
       "scale": {"type": "band", "paddingInner": 0.3, "paddingOuter": 0.46, "domain": ["2016-07-19","2016-07-20","2016-07-21","2016-07-22","2016-07-25","2016-07-26","2016-07-27","2016-07-28","2016-07-29","2016-08-01","2016-08-02","2016-08-03","2016-08-04","2016-08-05","2016-08-08","2016-08-09","2016-08-10","2016-08-11","2016-08-12","2016-08-15","2016-08-16","2016-08-17","2016-08-18","2016-08-19","2016-08-22","2016-08-23","2016-08-24","2016-08-25","2016-08-26","2016-08-29","2016-08-30","2016-08-31","2016-09-01","2016-09-02","2016-09-05","2016-09-06","2016-09-07","2016-09-08","2016-09-09","2016-09-12","2016-09-13","2016-09-14","2016-09-15","2016-09-16","2016-09-19","2016-09-20","2016-09-21","2016-09-22","2016-09-23","2016-09-26","2016-09-27","2016-09-28","2016-09-29","2016-09-30","2016-10-03","2016-10-04","2016-10-05","2016-10-06","2016-10-07","2016-10-10","2016-10-11","2016-10-12","2016-10-13","2016-10-14","2016-10-17","2016-10-18","2016-10-19","2016-10-20","2016-10-21","2016-10-24","2016-10-25","2016-10-26","2016-10-27","2016-10-28","2016-10-31","2016-11-01","2016-11-02","2016-11-03","2016-11-04","2016-11-07","2016-11-08","2016-11-09","2016-11-10","2016-11-11","2016-11-14","2016-11-15","2016-11-16","2016-11-17","2016-11-18","2016-11-21","2016-11-22","2016-11-23","2016-11-24","2016-11-25","2016-11-28"]}},
     "y": {"field": "p", "type": "quantitative"},
     "text": {"field": "t"},
     "color": {"condition": [{"test": "datum.k == 'm10'", "value": "#009900"}, {"test": "datum.k == 'm20'", "value": "#ff3333"}, {"test": "datum.k == 'm200'", "value": "#0000ff"}], "value": "#000000"}}},
  {"data": {"values": [{"t": "© ProRealTime.com"}]},
   "mark": {"type": "text", "fontSize": 11, "align": "left", "baseline": "middle", "xOffset": -4, "color": "#222222"},
   "encoding": {
     "x": {"datum": "2016-07-19", "type": "ordinal",
       "scale": {"type": "band", "paddingInner": 0.3, "paddingOuter": 0.46, "domain": ["2016-07-19","2016-07-20","2016-07-21","2016-07-22","2016-07-25","2016-07-26","2016-07-27","2016-07-28","2016-07-29","2016-08-01","2016-08-02","2016-08-03","2016-08-04","2016-08-05","2016-08-08","2016-08-09","2016-08-10","2016-08-11","2016-08-12","2016-08-15","2016-08-16","2016-08-17","2016-08-18","2016-08-19","2016-08-22","2016-08-23","2016-08-24","2016-08-25","2016-08-26","2016-08-29","2016-08-30","2016-08-31","2016-09-01","2016-09-02","2016-09-05","2016-09-06","2016-09-07","2016-09-08","2016-09-09","2016-09-12","2016-09-13","2016-09-14","2016-09-15","2016-09-16","2016-09-19","2016-09-20","2016-09-21","2016-09-22","2016-09-23","2016-09-26","2016-09-27","2016-09-28","2016-09-29","2016-09-30","2016-10-03","2016-10-04","2016-10-05","2016-10-06","2016-10-07","2016-10-10","2016-10-11","2016-10-12","2016-10-13","2016-10-14","2016-10-17","2016-10-18","2016-10-19","2016-10-20","2016-10-21","2016-10-24","2016-10-25","2016-10-26","2016-10-27","2016-10-28","2016-10-31","2016-11-01","2016-11-02","2016-11-03","2016-11-04","2016-11-07","2016-11-08","2016-11-09","2016-11-10","2016-11-11","2016-11-14","2016-11-15","2016-11-16","2016-11-17","2016-11-18","2016-11-21","2016-11-22","2016-11-23","2016-11-24","2016-11-25","2016-11-28"]}},
     "y": {"datum": 2.645, "type": "quantitative"},
     "text": {"field": "t"}}}
 ]
},
{
 "width": 751, "height": 50,
 "data": {"name": "p"},
 "encoding": {"x": {"field": "d", "type": "ordinal", "axis": null,
   "scale": {"type": "band", "paddingInner": 0.3, "paddingOuter": 0.46, "domain": ["2016-07-19","2016-07-20","2016-07-21","2016-07-22","2016-07-25","2016-07-26","2016-07-27","2016-07-28","2016-07-29","2016-08-01","2016-08-02","2016-08-03","2016-08-04","2016-08-05","2016-08-08","2016-08-09","2016-08-10","2016-08-11","2016-08-12","2016-08-15","2016-08-16","2016-08-17","2016-08-18","2016-08-19","2016-08-22","2016-08-23","2016-08-24","2016-08-25","2016-08-26","2016-08-29","2016-08-30","2016-08-31","2016-09-01","2016-09-02","2016-09-05","2016-09-06","2016-09-07","2016-09-08","2016-09-09","2016-09-12","2016-09-13","2016-09-14","2016-09-15","2016-09-16","2016-09-19","2016-09-20","2016-09-21","2016-09-22","2016-09-23","2016-09-26","2016-09-27","2016-09-28","2016-09-29","2016-09-30","2016-10-03","2016-10-04","2016-10-05","2016-10-06","2016-10-07","2016-10-10","2016-10-11","2016-10-12","2016-10-13","2016-10-14","2016-10-17","2016-10-18","2016-10-19","2016-10-20","2016-10-21","2016-10-24","2016-10-25","2016-10-26","2016-10-27","2016-10-28","2016-10-31","2016-11-01","2016-11-02","2016-11-03","2016-11-04","2016-11-07","2016-11-08","2016-11-09","2016-11-10","2016-11-11","2016-11-14","2016-11-15","2016-11-16","2016-11-17","2016-11-18","2016-11-21","2016-11-22","2016-11-23","2016-11-24","2016-11-25","2016-11-28"]}}},
 "layer": [
  {"mark": {"type": "bar", "strokeWidth": 1},
   "encoding": {
     "y": {"field": "v", "type": "quantitative", "scale": {"domain": [0, 1600000], "nice": false},
       "axis": {"orient": "right", "values": [1000000, 1500000], "labelExpr": "replace(format(datum.value / 1000, ',d'), ',', '.') + 'k'", "title": null, "tickSize": 4, "labelPadding": 2}},
     "fill": {"field": "dir", "type": "nominal", "scale": {"domain": ["u", "d"], "range": ["#22bb22", "#ff2222"]},
       "legend": {"title": null, "values": ["u"], "labelExpr": "'Volumen'", "labelColor": "#22aa22", "symbolType": "square", "symbolSize": 0}},
     "stroke": {"condition": {"test": "datum.dir == 'u'", "value": "#1a7a1a"}, "value": "#cc1111"}}},
  {"data": {"name": "vlab"},
   "mark": {"type": "point", "shape": "M -1 -0.34 L 1 -0.34 L 1 0.34 L -1 0.34 Z", "size": 1764, "filled": true, "opacity": 1, "fill": "#f7f7f7", "stroke": "#9a9a9a", "strokeWidth": 1, "xOffset": 33},
   "encoding": {
     "x": {"datum": "2016-11-28", "type": "ordinal", "axis": null,
       "scale": {"type": "band", "paddingInner": 0.3, "paddingOuter": 0.46, "domain": ["2016-07-19","2016-07-20","2016-07-21","2016-07-22","2016-07-25","2016-07-26","2016-07-27","2016-07-28","2016-07-29","2016-08-01","2016-08-02","2016-08-03","2016-08-04","2016-08-05","2016-08-08","2016-08-09","2016-08-10","2016-08-11","2016-08-12","2016-08-15","2016-08-16","2016-08-17","2016-08-18","2016-08-19","2016-08-22","2016-08-23","2016-08-24","2016-08-25","2016-08-26","2016-08-29","2016-08-30","2016-08-31","2016-09-01","2016-09-02","2016-09-05","2016-09-06","2016-09-07","2016-09-08","2016-09-09","2016-09-12","2016-09-13","2016-09-14","2016-09-15","2016-09-16","2016-09-19","2016-09-20","2016-09-21","2016-09-22","2016-09-23","2016-09-26","2016-09-27","2016-09-28","2016-09-29","2016-09-30","2016-10-03","2016-10-04","2016-10-05","2016-10-06","2016-10-07","2016-10-10","2016-10-11","2016-10-12","2016-10-13","2016-10-14","2016-10-17","2016-10-18","2016-10-19","2016-10-20","2016-10-21","2016-10-24","2016-10-25","2016-10-26","2016-10-27","2016-10-28","2016-10-31","2016-11-01","2016-11-02","2016-11-03","2016-11-04","2016-11-07","2016-11-08","2016-11-09","2016-11-10","2016-11-11","2016-11-14","2016-11-15","2016-11-16","2016-11-17","2016-11-18","2016-11-21","2016-11-22","2016-11-23","2016-11-24","2016-11-25","2016-11-28"]}},
     "y": {"field": "p", "type": "quantitative"}}},
  {"data": {"name": "vlab"},
   "mark": {"type": "text", "fontSize": 11, "xOffset": 33, "align": "center", "baseline": "middle", "color": "#22aa22"},
   "encoding": {
     "x": {"datum": "2016-11-28", "type": "ordinal", "axis": null,
       "scale": {"type": "band", "paddingInner": 0.3, "paddingOuter": 0.46, "domain": ["2016-07-19","2016-07-20","2016-07-21","2016-07-22","2016-07-25","2016-07-26","2016-07-27","2016-07-28","2016-07-29","2016-08-01","2016-08-02","2016-08-03","2016-08-04","2016-08-05","2016-08-08","2016-08-09","2016-08-10","2016-08-11","2016-08-12","2016-08-15","2016-08-16","2016-08-17","2016-08-18","2016-08-19","2016-08-22","2016-08-23","2016-08-24","2016-08-25","2016-08-26","2016-08-29","2016-08-30","2016-08-31","2016-09-01","2016-09-02","2016-09-05","2016-09-06","2016-09-07","2016-09-08","2016-09-09","2016-09-12","2016-09-13","2016-09-14","2016-09-15","2016-09-16","2016-09-19","2016-09-20","2016-09-21","2016-09-22","2016-09-23","2016-09-26","2016-09-27","2016-09-28","2016-09-29","2016-09-30","2016-10-03","2016-10-04","2016-10-05","2016-10-06","2016-10-07","2016-10-10","2016-10-11","2016-10-12","2016-10-13","2016-10-14","2016-10-17","2016-10-18","2016-10-19","2016-10-20","2016-10-21","2016-10-24","2016-10-25","2016-10-26","2016-10-27","2016-10-28","2016-10-31","2016-11-01","2016-11-02","2016-11-03","2016-11-04","2016-11-07","2016-11-08","2016-11-09","2016-11-10","2016-11-11","2016-11-14","2016-11-15","2016-11-16","2016-11-17","2016-11-18","2016-11-21","2016-11-22","2016-11-23","2016-11-24","2016-11-25","2016-11-28"]}},
     "y": {"field": "p", "type": "quantitative"},
     "text": {"field": "t"}}}
 ]
},
{
 "width": 751, "height": 63,
 "data": {"name": "p"},
 "encoding": {"x": {"field": "d", "type": "ordinal",
   "scale": {"type": "band", "paddingInner": 0.3, "paddingOuter": 0.46, "domain": ["2016-07-19","2016-07-20","2016-07-21","2016-07-22","2016-07-25","2016-07-26","2016-07-27","2016-07-28","2016-07-29","2016-08-01","2016-08-02","2016-08-03","2016-08-04","2016-08-05","2016-08-08","2016-08-09","2016-08-10","2016-08-11","2016-08-12","2016-08-15","2016-08-16","2016-08-17","2016-08-18","2016-08-19","2016-08-22","2016-08-23","2016-08-24","2016-08-25","2016-08-26","2016-08-29","2016-08-30","2016-08-31","2016-09-01","2016-09-02","2016-09-05","2016-09-06","2016-09-07","2016-09-08","2016-09-09","2016-09-12","2016-09-13","2016-09-14","2016-09-15","2016-09-16","2016-09-19","2016-09-20","2016-09-21","2016-09-22","2016-09-23","2016-09-26","2016-09-27","2016-09-28","2016-09-29","2016-09-30","2016-10-03","2016-10-04","2016-10-05","2016-10-06","2016-10-07","2016-10-10","2016-10-11","2016-10-12","2016-10-13","2016-10-14","2016-10-17","2016-10-18","2016-10-19","2016-10-20","2016-10-21","2016-10-24","2016-10-25","2016-10-26","2016-10-27","2016-10-28","2016-10-31","2016-11-01","2016-11-02","2016-11-03","2016-11-04","2016-11-07","2016-11-08","2016-11-09","2016-11-10","2016-11-11","2016-11-14","2016-11-15","2016-11-16","2016-11-17","2016-11-18","2016-11-21","2016-11-22","2016-11-23","2016-11-24","2016-11-25","2016-11-28"]},
   "axis": {"orient": "bottom", "title": null, "labelAngle": 0, "tickSize": 4, "labelPadding": 2, "labelFontSize": 11,
     "values": ["2016-07-22","2016-07-27","2016-08-01","2016-08-04","2016-08-09","2016-08-12","2016-08-17","2016-08-22","2016-08-25","2016-09-01","2016-09-07","2016-09-12","2016-09-15","2016-09-20","2016-09-23","2016-09-28","2016-10-03","2016-10-06","2016-10-11","2016-10-14","2016-10-19","2016-10-24","2016-10-27","2016-11-01","2016-11-04","2016-11-09","2016-11-14","2016-11-17","2016-11-22","2016-11-25"],
     "labelExpr": "datum.value == '2016-08-01' ? 'ago' : datum.value == '2016-09-01' ? 'sep' : datum.value == '2016-10-03' ? 'oct' : datum.value == '2016-11-01' ? 'nov' : substring(datum.value, 8, 10)",
     "labelFontWeight": {"condition": {"test": "datum.value == '2016-08-01' || datum.value == '2016-09-01' || datum.value == '2016-10-03' || datum.value == '2016-11-01'", "value": "bold"}, "value": "normal"}}}},
 "layer": [
  {"mark": {"type": "area", "color": "#8fe08f", "opacity": 0.8},
   "encoding": {
     "y": {"field": "macd", "type": "quantitative", "scale": {"domain": [-0.065, 0.58], "nice": false, "zero": false},
       "axis": {"orient": "right", "values": [0], "title": null, "tickSize": 4, "labelPadding": 3, "labelFontWeight": "bold", "labelFontSize": 12}},
     "y2": {"field": "sig"}}},
  {"mark": {"type": "bar", "stroke": "#1a6a1a", "strokeWidth": 0.8},
   "encoding": {
     "y": {"field": "hist", "type": "quantitative"},
     "y2": {"datum": 0},
     "fill": {"condition": {"test": "datum.hist >= 0", "value": "#33cc33"}, "value": "#ee2222"}}},
  {"mark": {"type": "line", "strokeWidth": 1.2},
   "encoding": {"y": {"field": "sig", "type": "quantitative"}, "stroke": {"datum": "sig", "type": "nominal"}}},
  {"mark": {"type": "line", "strokeWidth": 1.5},
   "encoding": {"y": {"field": "macd", "type": "quantitative"},
     "stroke": {"datum": "macd", "type": "nominal",
       "scale": {"domain": ["hist", "sig", "macd"], "range": ["#33cc33", "#ff5555", "#2222ee"]},
       "legend": {"title": null, "symbolType": "square", "symbolSize": 0, "labelExpr": "datum.value == 'hist' ? 'MACD-, señal' : datum.value == 'sig' ? 'Señal' : 'MACD ( 12 26 9)'",
         "labelColor": {"expr": "datum.value == 'hist' ? '#33cc33' : datum.value == 'sig' ? '#ff5555' : '#2222ee'"}}}}},
  {"data": {"name": "mlab"},
   "mark": {"type": "point", "shape": "M -1 -0.34 L 1 -0.34 L 1 0.34 L -1 0.34 Z", "size": 1764, "filled": true, "opacity": 1, "fill": "#f7f7f7", "stroke": "#9a9a9a", "strokeWidth": 1, "xOffset": 33},
   "encoding": {
     "x": {"datum": "2016-11-28", "type": "ordinal",
       "scale": {"type": "band", "paddingInner": 0.3, "paddingOuter": 0.46, "domain": ["2016-07-19","2016-07-20","2016-07-21","2016-07-22","2016-07-25","2016-07-26","2016-07-27","2016-07-28","2016-07-29","2016-08-01","2016-08-02","2016-08-03","2016-08-04","2016-08-05","2016-08-08","2016-08-09","2016-08-10","2016-08-11","2016-08-12","2016-08-15","2016-08-16","2016-08-17","2016-08-18","2016-08-19","2016-08-22","2016-08-23","2016-08-24","2016-08-25","2016-08-26","2016-08-29","2016-08-30","2016-08-31","2016-09-01","2016-09-02","2016-09-05","2016-09-06","2016-09-07","2016-09-08","2016-09-09","2016-09-12","2016-09-13","2016-09-14","2016-09-15","2016-09-16","2016-09-19","2016-09-20","2016-09-21","2016-09-22","2016-09-23","2016-09-26","2016-09-27","2016-09-28","2016-09-29","2016-09-30","2016-10-03","2016-10-04","2016-10-05","2016-10-06","2016-10-07","2016-10-10","2016-10-11","2016-10-12","2016-10-13","2016-10-14","2016-10-17","2016-10-18","2016-10-19","2016-10-20","2016-10-21","2016-10-24","2016-10-25","2016-10-26","2016-10-27","2016-10-28","2016-10-31","2016-11-01","2016-11-02","2016-11-03","2016-11-04","2016-11-07","2016-11-08","2016-11-09","2016-11-10","2016-11-11","2016-11-14","2016-11-15","2016-11-16","2016-11-17","2016-11-18","2016-11-21","2016-11-22","2016-11-23","2016-11-24","2016-11-25","2016-11-28"]}},
     "y": {"field": "p", "type": "quantitative"}}},
  {"data": {"name": "mlab"},
   "mark": {"type": "text", "fontSize": 11, "xOffset": 33, "align": "center", "baseline": "middle"},
   "encoding": {
     "x": {"datum": "2016-11-28", "type": "ordinal",
       "scale": {"type": "band", "paddingInner": 0.3, "paddingOuter": 0.46, "domain": ["2016-07-19","2016-07-20","2016-07-21","2016-07-22","2016-07-25","2016-07-26","2016-07-27","2016-07-28","2016-07-29","2016-08-01","2016-08-02","2016-08-03","2016-08-04","2016-08-05","2016-08-08","2016-08-09","2016-08-10","2016-08-11","2016-08-12","2016-08-15","2016-08-16","2016-08-17","2016-08-18","2016-08-19","2016-08-22","2016-08-23","2016-08-24","2016-08-25","2016-08-26","2016-08-29","2016-08-30","2016-08-31","2016-09-01","2016-09-02","2016-09-05","2016-09-06","2016-09-07","2016-09-08","2016-09-09","2016-09-12","2016-09-13","2016-09-14","2016-09-15","2016-09-16","2016-09-19","2016-09-20","2016-09-21","2016-09-22","2016-09-23","2016-09-26","2016-09-27","2016-09-28","2016-09-29","2016-09-30","2016-10-03","2016-10-04","2016-10-05","2016-10-06","2016-10-07","2016-10-10","2016-10-11","2016-10-12","2016-10-13","2016-10-14","2016-10-17","2016-10-18","2016-10-19","2016-10-20","2016-10-21","2016-10-24","2016-10-25","2016-10-26","2016-10-27","2016-10-28","2016-10-31","2016-11-01","2016-11-02","2016-11-03","2016-11-04","2016-11-07","2016-11-08","2016-11-09","2016-11-10","2016-11-11","2016-11-14","2016-11-15","2016-11-16","2016-11-17","2016-11-18","2016-11-21","2016-11-22","2016-11-23","2016-11-24","2016-11-25","2016-11-28"]}},
     "y": {"field": "p", "type": "quantitative"},
     "text": {"field": "t"},
     "color": {"condition": [{"test": "datum.k == 'macd'", "value": "#2222dd"}, {"test": "datum.k == 'sig'", "value": "#ff4444"}], "value": "#22aa22"}}}
 ]
}
],
"resolve": {"scale": {"stroke": "independent", "fill": "independent", "shape": "independent", "color": "independent"}}
}
